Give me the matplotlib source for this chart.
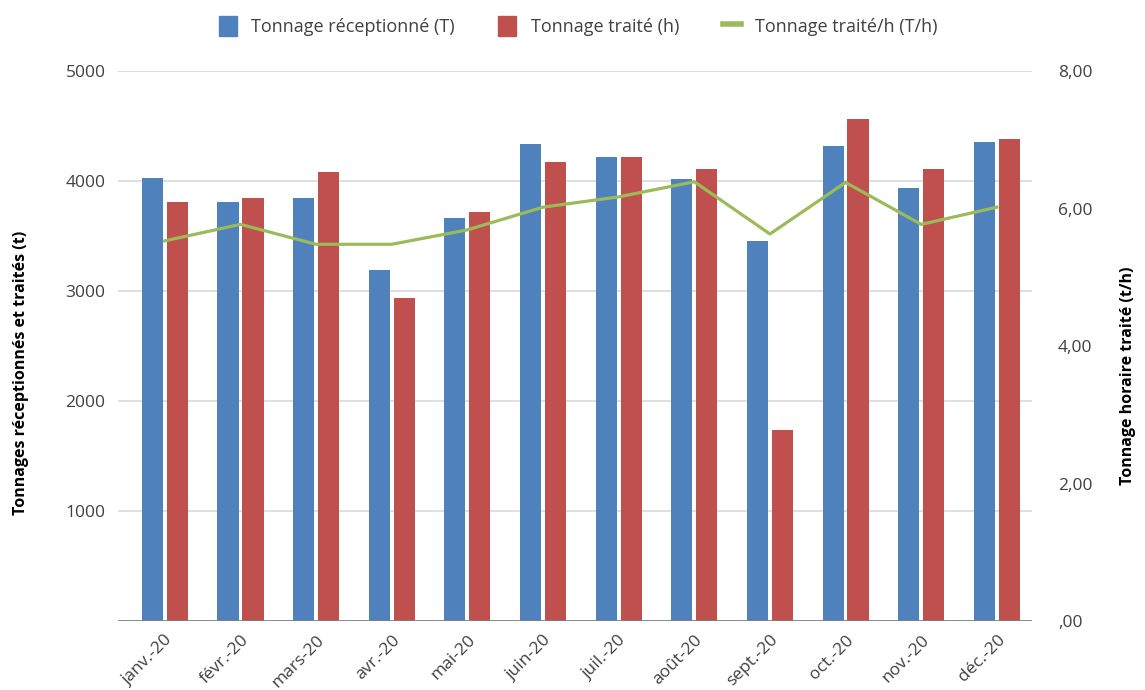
import numpy as np
import matplotlib.pyplot as plt
from matplotlib.patches import Patch
from matplotlib.lines import Line2D

plt.rcParams['font.family'] = ['Open Sans', 'DejaVu Sans']

mois = ['janv.-20', 'févr.-20', 'mars-20', 'avr.-20', 'mai-20', 'juin-20',
        'juil.-20', 'août-20', 'sept.-20', 'oct.-20', 'nov.-20', 'déc.-20']
recep = [4030, 3810, 3843, 3188, 3666, 4333, 4221, 4015, 3457, 4318, 3939, 4352]
traite = [3809, 3843, 4079, 2934, 3721, 4176, 4221, 4112, 1736, 4561, 4112, 4382]
t_par_h = [5.53, 5.77, 5.48, 5.48, 5.69, 6.02, 6.17, 6.39, 5.63, 6.38, 5.77, 6.02]

left_ticks = [1000, 2000, 3000, 4000, 5000]
right_ticks = [0, 2, 4, 6, 8]
right_labels = [',00', '2,00', '4,00', '6,00', '8,00']

bleu, rouge, vert = '#4F81BD', '#C0504D', '#9BBB59'
txt = '#404040'

fig = plt.figure(figsize=(11.45, 6.9), dpi=100)
ax = fig.add_axes([0.103, 0.1, 0.798, 0.797])
ax2 = ax.twinx()

x = np.arange(len(mois))
w = 0.28
ax.bar(x - 0.165, recep, w, color=bleu, zorder=3)
ax.bar(x + 0.165, traite, w, color=rouge, zorder=3)
ax2.plot(x, t_par_h, color=vert, lw=2.3, zorder=4)

ax.set_ylim(0, 5000)
ax2.set_ylim(0, 8)
ax.set_xlim(-0.62, 11.46)

ax.set_yticks(left_ticks)
ax.set_yticklabels([str(v) for v in left_ticks])
ax2.set_yticks(right_ticks)
ax2.set_yticklabels(right_labels)
ax.yaxis.grid(True, color='#D9D9D9', lw=1.2, zorder=0)
ax.set_axisbelow(True)

ax.set_xticks(x)
ax.set_xticklabels(mois, rotation=45, ha='right', rotation_mode='anchor')

for a in (ax, ax2):
    for s in ('top', 'left', 'right', 'bottom'):
        a.spines[s].set_visible(False)
    a.tick_params(length=0, labelsize=12.5, colors=txt)
ax.tick_params(axis='y', pad=9)
ax2.tick_params(axis='y', pad=19)
ax.tick_params(axis='x', pad=8)
ax.axhline(0, color='#7F7F7F', lw=2, zorder=5)

# titres des axes, un peu sous le centre vertical
fig.text(0.018, 0.46, 'Tonnages réceptionnés et traités (t)', rotation=90,
         ha='center', va='center', fontsize=11.5, fontweight='bold')
fig.text(0.985, 0.455, 'Tonnage horaire traité (t/h)', rotation=90,
         ha='center', va='center', fontsize=11.5, fontweight='bold')

handles = [Patch(color=bleu), Patch(color=rouge),
           Line2D([0], [0], color=vert, lw=4)]
labels = ['Tonnage réceptionné (T)', 'Tonnage traité (h)',
          'Tonnage traité/h (T/h)']
fig.legend(handles, labels, loc='upper center', bbox_to_anchor=(0.505, 1.0),
           ncol=3, frameon=False, fontsize=13, handlelength=1.0,
           handleheight=1.3, columnspacing=2.4, handletextpad=0.8,
           labelcolor=txt)

fig.savefig('out.png', dpi=100)
